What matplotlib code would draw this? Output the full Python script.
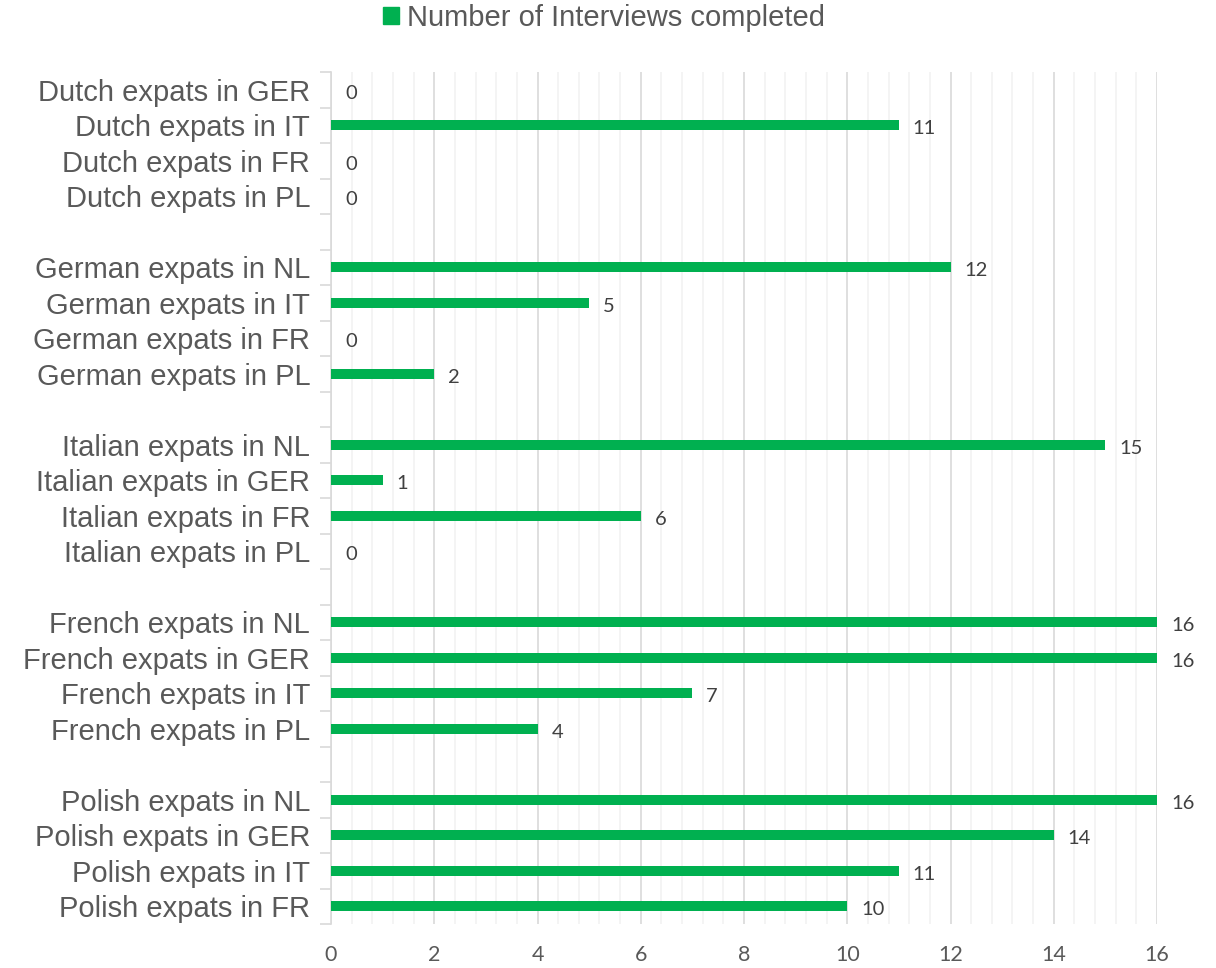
"""horizontal bar chart of completed interviews per expat group"""

import matplotlib.pyplot as plt
from matplotlib.ticker import MultipleLocator
from matplotlib.patches import Patch

# rows from top to bottom, blank strings are the gaps between groups
categories = [
    'Dutch expats in GER', 'Dutch expats in IT', 'Dutch expats in FR', 'Dutch expats in PL', '',
    'German expats in NL', 'German expats in IT', 'German expats in FR', 'German expats in PL', '',
    'Italian expats in NL', 'Italian expats in GER', 'Italian expats in FR', 'Italian expats in PL', '',
    'French expats in NL', 'French expats in GER', 'French expats in IT', 'French expats in PL', '',
    'Polish expats in NL', 'Polish expats in GER', 'Polish expats in IT', 'Polish expats in FR',
]
interviews = [
    0, 11, 0, 0, None,
    12, 5, 0, 2, None,
    15, 1, 6, 0, None,
    16, 16, 7, 4, None,
    16, 14, 11, 10,
]
x_ticks = [0, 2, 4, 6, 8, 10, 12, 14, 16]
legend_label = 'Number of Interviews completed'

green = '#00b050'
label_font = 'Liberation Sans'
num_font = 'Lato'

fig = plt.figure(figsize=(12.16, 9.68), dpi=100)
ax = fig.add_axes([331/1216, 1 - 924/968, (1157-331)/1216, (924-72)/968])

ypos = list(range(len(categories)))
for y, v in zip(ypos, interviews):
    if v is None:
        continue
    if v > 0:
        ax.barh(y, v, height=0.28, color=green, zorder=3)
    ax.annotate(str(v), (v, y), xytext=(10, -2.5), textcoords='offset points',
                ha='left', va='center', fontsize=14.5, color='#404040',
                family=num_font)

ax.set_xlim(0, 16)
ax.set_ylim(len(categories) - 0.5, -0.5)
ax.set_xticks(x_ticks)
ax.xaxis.set_minor_locator(MultipleLocator(0.4))
ax.grid(axis='x', which='major', color='#d9d9d9', lw=1.2, zorder=0)
ax.grid(axis='x', which='minor', color='#f2f2f2', lw=1.2, zorder=0)
ax.tick_params(axis='x', which='both', length=0, labelsize=15.5,
               labelcolor='#595959', pad=15)
for t in ax.get_xticklabels():
    t.set_family(num_font)

# category labels centred in rows, tick marks on the row boundaries
ax.set_yticks(ypos)
ax.set_yticklabels(categories, fontsize=21, color='#595959', family=label_font)
ax.tick_params(axis='y', which='major', length=0, pad=15)
ax.set_yticks([y - 0.5 for y in ypos] + [len(categories) - 0.5], minor=True)
ax.tick_params(axis='y', which='minor', length=8, color='#d9d9d9', width=1.2)

for s in ['top', 'right', 'bottom']:
    ax.spines[s].set_visible(False)
ax.spines['left'].set_color('#d9d9d9')
ax.spines['left'].set_linewidth(1.2)

fig.legend(handles=[Patch(color=green, label=legend_label)],
           loc='center', bbox_to_anchor=(604/1216, 1 - 18/968), frameon=False,
           handlelength=0.55, handleheight=0.55, handletextpad=0.25,
           prop={'family': label_font, 'size': 21}, labelcolor='#595959')

fig.savefig('out.png', dpi=100)
